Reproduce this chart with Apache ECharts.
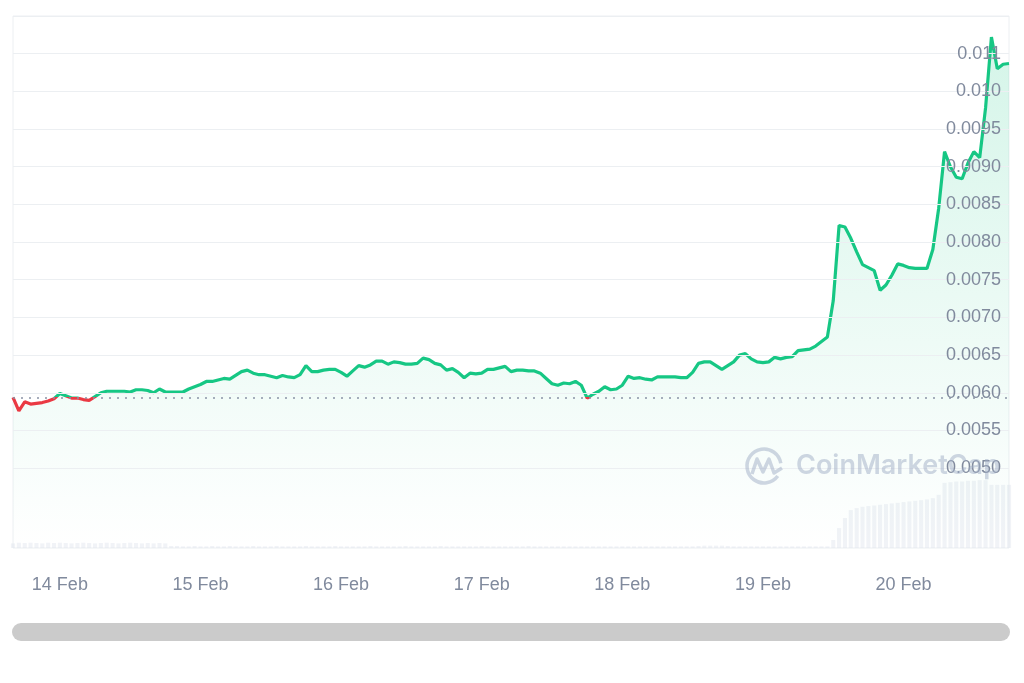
<!DOCTYPE html>
<html>
<head>
<meta charset="utf-8">
<script src="https://cdn.jsdelivr.net/npm/echarts@6/dist/echarts.min.js"></script>
<style>
html,body{margin:0;padding:0;background:#fff;}
#chart{width:1024px;height:683px;}
</style>
</head>
<body>
<div id="chart"></div>
<script>
// ---- data (hourly, starting 13 Feb 16:00) ----
const startTime = '2024-02-13T16:00:00Z';
const openPrice = 0.00594;
const prices = [
  0.00594, 0.00576, 0.00588, 0.00585, 0.00586, 0.00587, 0.00589, 0.00592, 0.00599, 0.00596,
  0.00593, 0.00593, 0.00591, 0.00590, 0.00595, 0.00600, 0.00602, 0.00602, 0.00602, 0.00602,
  0.00601, 0.00604, 0.00604, 0.00603, 0.00600, 0.00605, 0.00601, 0.00601, 0.00601, 0.00601,
  0.00605, 0.00608, 0.00611, 0.00615, 0.00615, 0.00617, 0.00619, 0.00618, 0.00623, 0.00628,
  0.00630, 0.00626, 0.00624, 0.00624, 0.00622, 0.00620, 0.00623, 0.00621, 0.00620, 0.00624,
  0.00636, 0.00628, 0.00628, 0.00630, 0.00631, 0.00631, 0.00627, 0.00622, 0.00629, 0.00636,
  0.00634, 0.00637, 0.00642, 0.00642, 0.00638, 0.00641, 0.00640, 0.00638, 0.00638, 0.00639,
  0.00646, 0.00644, 0.00639, 0.00637, 0.00630, 0.00632, 0.00627, 0.00620, 0.00626, 0.00625,
  0.00626, 0.00631, 0.00631, 0.00633, 0.00635, 0.00628, 0.00630, 0.00630, 0.00629, 0.00629,
  0.00626, 0.00619, 0.00612, 0.00610, 0.00613, 0.00612, 0.00615, 0.00610, 0.00593, 0.00598,
  0.00602, 0.00608, 0.00604, 0.00605, 0.00610, 0.00622, 0.00619, 0.00620, 0.00618, 0.00617,
  0.00621, 0.00621, 0.00621, 0.00621, 0.00620, 0.00620, 0.00627, 0.00639, 0.00641, 0.00641,
  0.00636, 0.00631, 0.00636, 0.00641, 0.00650, 0.00652, 0.00645, 0.00641, 0.00640, 0.00641,
  0.00647, 0.00645, 0.00647, 0.00648, 0.00656, 0.00657, 0.00658, 0.00662, 0.00668, 0.00674,
  0.00722, 0.00822, 0.00820, 0.00805, 0.00787, 0.00770, 0.00766, 0.00762, 0.00736, 0.00743,
  0.00756, 0.00771, 0.00769, 0.00766, 0.00765, 0.00765, 0.00765, 0.00790, 0.00845, 0.00920,
  0.00900, 0.00886, 0.00884, 0.00905, 0.00920, 0.00912, 0.00978, 0.01072, 0.01030, 0.01036,
  0.01037
];
const volumes = [
  0.07, 0.08, 0.075, 0.08, 0.075, 0.07, 0.08, 0.075, 0.08, 0.075,
  0.07, 0.075, 0.08, 0.075, 0.07, 0.075, 0.08, 0.075, 0.07, 0.075,
  0.08, 0.075, 0.07, 0.075, 0.07, 0.075, 0.07, 0.03, 0.03, 0.025,
  0.025, 0.03, 0.025, 0.025, 0.03, 0.025, 0.025, 0.03, 0.025, 0.025,
  0.025, 0.03, 0.025, 0.025, 0.025, 0.03, 0.025, 0.025, 0.025, 0.025,
  0.03, 0.025, 0.025, 0.025, 0.025, 0.03, 0.025, 0.025, 0.025, 0.025,
  0.025, 0.03, 0.025, 0.025, 0.025, 0.025, 0.025, 0.03, 0.025, 0.025,
  0.025, 0.025, 0.025, 0.03, 0.025, 0.025, 0.025, 0.025, 0.025, 0.025,
  0.03, 0.025, 0.025, 0.025, 0.025, 0.025, 0.025, 0.025, 0.03, 0.025,
  0.025, 0.025, 0.025, 0.025, 0.025, 0.025, 0.025, 0.025, 0.025, 0.025,
  0.025, 0.025, 0.025, 0.025, 0.025, 0.025, 0.025, 0.025, 0.025, 0.025,
  0.025, 0.025, 0.025, 0.025, 0.025, 0.025, 0.025, 0.03, 0.035, 0.035,
  0.035, 0.035, 0.03, 0.025, 0.025, 0.025, 0.025, 0.025, 0.025, 0.025,
  0.025, 0.025, 0.025, 0.025, 0.025, 0.025, 0.025, 0.025, 0.025, 0.025,
  0.12, 0.30, 0.45, 0.57, 0.60, 0.62, 0.63, 0.64, 0.65, 0.66,
  0.67, 0.68, 0.69, 0.70, 0.71, 0.72, 0.73, 0.75, 0.80, 0.98,
  0.99, 1.00, 1.00, 1.01, 1.01, 1.02, 1.02, 0.95, 0.95, 0.95,
  0.95
];
const yTickValues = [0.0050, 0.0055, 0.0060, 0.0065, 0.0070, 0.0075, 0.0080, 0.0085, 0.0090, 0.0095, 0.0100, 0.0105];
const yTickLabels = ['0.0050', '0.0055', '0.0060', '0.0065', '0.0070', '0.0075', '0.0080', '0.0085', '0.0090', '0.0095', '0.010', '0.011'];
const yGridValues = yTickValues.concat([0.0110]);
const monthNames = ['Jan','Feb','Mar','Apr','May','Jun','Jul','Aug','Sep','Oct','Nov','Dec'];

// hourly category labels
const t0 = new Date(startTime).getTime();
const categories = prices.map(function (_, i) {
  const d = new Date(t0 + i * 3600000);
  const hh = String(d.getUTCHours()).padStart(2, '0');
  return d.getUTCDate() + ' ' + monthNames[d.getUTCMonth()] + ' ' + hh + ':00';
});

const GREEN = '#16c784', RED = '#ea3943';
const chart = echarts.init(document.getElementById('chart'));
chart.setOption({
  backgroundColor: '#ffffff',
  animation: false,
  grid: {
    left: 13, right: 15, top: 16, bottom: 135,
    show: true, borderColor: '#eceff2', borderWidth: 1
  },
  xAxis: {
    type: 'category',
    data: categories,
    boundaryGap: false,
    axisLine: { show: false },
    axisTick: { show: false },
    splitLine: { show: false },
    axisLabel: {
      interval: function (idx, val) { return val.slice(-5) === '00:00'; },
      formatter: function (val) { return val.split(' ').slice(0, 2).join(' '); },
      color: '#808a9d',
      fontSize: 18,
      fontFamily: 'Liberation Sans, Arial, sans-serif',
      margin: 28
    }
  },
  yAxis: [{
    type: 'value',
    position: 'right',
    min: 0.00394,
    max: 0.0110,
    axisLine: { show: false },
    axisTick: { show: false, customValues: yGridValues },
    splitLine: { show: true, lineStyle: { color: '#eceff2', width: 1 } },
    axisLabel: {
      inside: true,
      customValues: yTickValues,
      margin: 8,
      color: '#808a9d',
      fontSize: 18,
      fontFamily: 'Liberation Sans, Arial, sans-serif',
      formatter: function (v) {
        let best = 0;
        for (let i = 0; i < yTickValues.length; i++) {
          if (Math.abs(yTickValues[i] - v) < Math.abs(yTickValues[best] - v)) best = i;
        }
        return yTickLabels[best];
      }
    },
    z: 3
  }, {
    type: 'value',
    min: 0,
    max: 8,
    show: false,
    splitLine: { show: false }
  }],
  graphic: [
    {
      type: 'rect',
      shape: { x: 12, y: 623, width: 998, height: 18, r: 9 },
      style: { fill: '#cbcbcb' }
    },
    {
      type: 'arc',
      shape: { cx: 764, cy: 466, r: 17, startAngle: Math.PI * 0.2, endAngle: Math.PI * 1.95 },
      style: { stroke: 'rgba(160,174,198,0.5)', lineWidth: 3.5, fill: 'none' },
      z: 10
    },
    {
      type: 'polyline',
      shape: { points: [[752, 474], [757, 459], [763, 472], [769, 459], [774, 473], [782, 468]] },
      style: { stroke: 'rgba(160,174,198,0.5)', lineWidth: 3.5, fill: 'none', lineJoin: 'round' },
      z: 10
    },
    {
      type: 'text',
      x: 796, y: 466,
      style: {
        text: 'CoinMarketCap',
        fill: 'rgba(160,174,198,0.5)',
        font: '600 27px Inter, "Liberation Sans", Arial, sans-serif',
        textVerticalAlign: 'middle'
      },
      z: 10
    }
  ],
  series: [
    {
      name: 'Volume',
      type: 'bar',
      yAxisIndex: 1,
      data: volumes,
      barCategoryGap: '30%',
      itemStyle: { color: 'rgba(220,225,235,0.4)' },
      silent: true,
      z: 1
    },
    {
      name: 'Price',
      type: 'line',
      data: prices,
      symbol: 'none',
      lineStyle: { width: 3.2, color: GREEN },
      areaStyle: {
        color: new echarts.graphic.LinearGradient(0, 0, 0, 1, [
          { offset: 0, color: 'rgba(22,199,132,0.26)' },
          { offset: 1, color: 'rgba(22,199,132,0.0)' }
        ])
      },
      markLine: {
        silent: true,
        symbol: 'none',
        precision: 8,
        label: { show: false },
        lineStyle: { type: [2, 6], color: '#8a93a6', width: 1.5 },
        data: [{ yAxis: openPrice }]
      },
      z: 2
    }
  ]
});

// colour the price line red below the opening price, green above it
const baseY = chart.convertToPixel({ yAxisIndex: 0 }, openPrice);
const chartH = chart.getHeight();
const split = baseY / chartH;
chart.setOption({
  series: [{}, {
    lineStyle: {
      color: new echarts.graphic.LinearGradient(0, 0, 0, chartH, [
        { offset: 0, color: GREEN },
        { offset: split, color: GREEN },
        { offset: split, color: RED },
        { offset: 1, color: RED }
      ], true)
    }
  }]
});
</script>
</body>
</html>
